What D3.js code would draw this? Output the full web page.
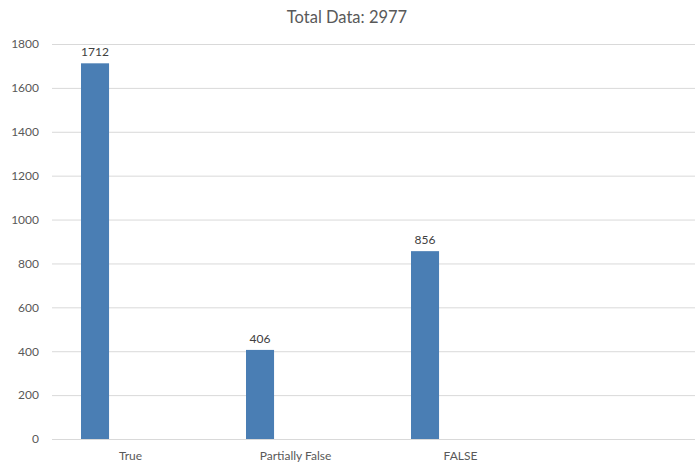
<!DOCTYPE html>
<html>
<head>
<meta charset="utf-8">
<script src="https://cdn.jsdelivr.net/npm/d3@7"></script>
<style>
  html, body { margin: 0; padding: 0; background: #fff; }
  svg { display: block; font-family: Lato, "Open Sans", sans-serif; }
</style>
</head>
<body>
<svg id="chart" width="695" height="463"></svg>
<script>
// Chart data
const categories = ["True", "Partially False", "FALSE"];
const counts = [1712, 406, 856];
const yTicks = [0, 200, 400, 600, 800, 1000, 1200, 1400, 1600, 1800];
const titleText = "Total Data: 2977";

const svg = d3.select("#chart");
const plotLeft = 52, plotRight = 695, plotTop = 44, plotBottom = 439;

const x = d3.scaleBand().domain(categories).range([48, 543]);
const y = d3.scaleLinear().domain([0, 1800]).range([plotBottom, plotTop]);

// Title
svg.append("text")
  .attr("x", 347).attr("y", 23)
  .attr("text-anchor", "middle")
  .attr("font-size", 16.5)
  .attr("fill", "#595959")
  .text(titleText);

// Horizontal gridlines
svg.append("g").selectAll("line").data(yTicks).join("line")
  .attr("x1", plotLeft).attr("x2", plotRight)
  .attr("y1", d => y(d) + 0.5).attr("y2", d => y(d) + 0.5)
  .attr("stroke", "#d9d9d9").attr("stroke-width", 1);

// Y axis labels
const yAxis = d3.axisLeft(y).tickValues(yTicks).tickFormat(d3.format("d")).tickSize(0).tickPadding(0);
const ya = svg.append("g").attr("transform", `translate(39,0)`).call(yAxis);
ya.select(".domain").remove();
ya.selectAll("text").attr("font-size", 12).attr("fill", "#595959")
  .attr("font-family", "Lato, 'Open Sans', sans-serif");

// X axis labels
const xAxis = d3.axisBottom(x).tickSize(0).tickPadding(0);
const xa = svg.append("g").attr("transform", `translate(0,451)`).call(xAxis);
xa.select(".domain").remove();
xa.selectAll("text").attr("font-size", 12).attr("fill", "#595959")
  .attr("font-family", "Lato, 'Open Sans', sans-serif");

// Bars
const barOffset = x.bandwidth() * 0.2;
const barW = x.bandwidth() * 0.17;
svg.append("g").selectAll("rect").data(categories).join("rect")
  .attr("x", (c) => x(c) + barOffset)
  .attr("width", barW)
  .attr("y", (c, i) => y(counts[i]))
  .attr("height", (c, i) => y(0) - y(counts[i]))
  .attr("fill", "#4a7eb4");

// Value labels
svg.append("g").selectAll("text").data(categories).join("text")
  .attr("x", (c) => x(c) + barOffset + barW / 2)
  .attr("y", (c, i) => y(counts[i]) - 7)
  .attr("text-anchor", "middle")
  .attr("font-size", 12)
  .attr("fill", "#404040")
  .text((c, i) => counts[i]);
</script>
</body>
</html>
